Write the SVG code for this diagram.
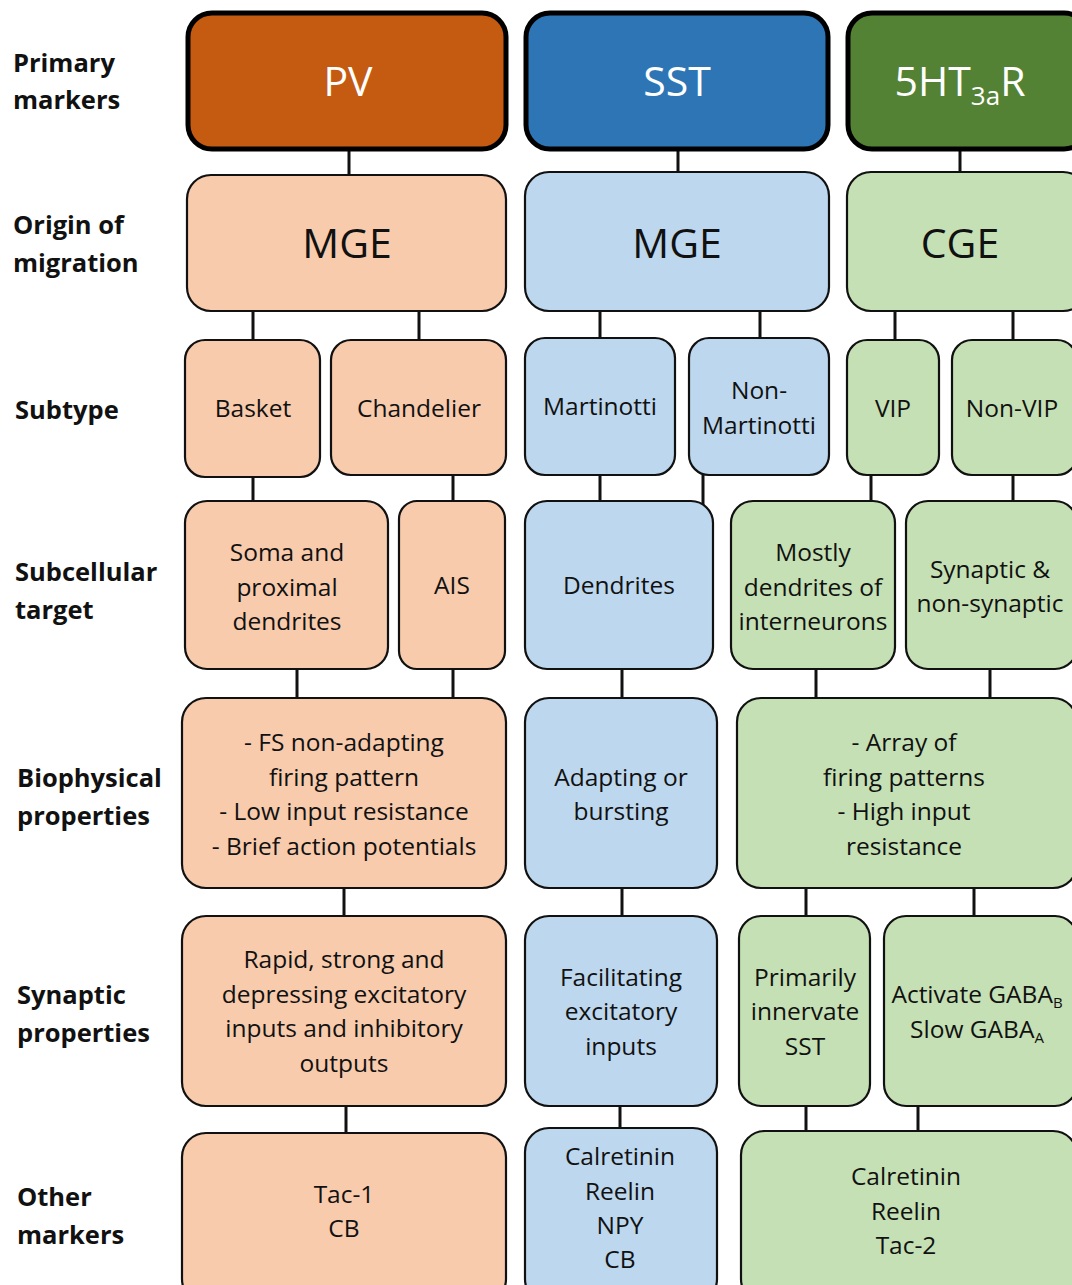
<svg xmlns="http://www.w3.org/2000/svg" width="1072" height="1285" viewBox="0 0 1072 1285">
<style>
text{font-family:"Open Sans","Liberation Sans",sans-serif;fill:#111;text-anchor:middle}
.lab{font-weight:bold;font-size:25.5px;text-anchor:start}
.t{font-size:24.5px}
.big{font-size:41px}
.top{font-size:41px;fill:#fff}
.pv{fill:#F8CBAD;stroke:#111;stroke-width:2.2}
.sst{fill:#BDD7EE;stroke:#111;stroke-width:2.2}
.gr{fill:#C5E0B4;stroke:#111;stroke-width:2.2}
.hd{stroke:#000;stroke-width:5}
#connectors line{stroke:#111;stroke-width:3}
</style>
<rect width="1072" height="1285" fill="#fff"/>
<g id="labels">
<text class="lab" x="13" y="72">Primary</text><text class="lab" x="13" y="109">markers</text>
<text class="lab" x="13" y="234">Origin of</text><text class="lab" x="13" y="272">migration</text>
<text class="lab" x="15" y="419">Subtype</text>
<text class="lab" x="15" y="581">Subcellular</text><text class="lab" x="15" y="619">target</text>
<text class="lab" x="17" y="787">Biophysical</text><text class="lab" x="17" y="825">properties</text>
<text class="lab" x="17" y="1004">Synaptic</text><text class="lab" x="17" y="1042">properties</text>
<text class="lab" x="17" y="1206">Other</text><text class="lab" x="17" y="1244">markers</text>
</g>
<g id="connectors">
<line x1="349" y1="150" x2="349" y2="175"/><line x1="678" y1="150" x2="678" y2="172"/><line x1="960" y1="150" x2="960" y2="172"/>
<line x1="253" y1="311" x2="253" y2="340"/><line x1="419" y1="311" x2="419" y2="340"/><line x1="600" y1="311" x2="600" y2="338"/><line x1="760" y1="311" x2="760" y2="338"/><line x1="895" y1="311" x2="895" y2="340"/><line x1="1013" y1="311" x2="1013" y2="340"/>
<line x1="253" y1="477" x2="253" y2="501"/><line x1="453" y1="475" x2="453" y2="501"/><line x1="600" y1="475" x2="600" y2="501"/><line x1="703" y1="475" x2="703" y2="510"/><line x1="871" y1="475" x2="871" y2="501"/><line x1="1013" y1="475" x2="1013" y2="501"/>
<line x1="297" y1="669" x2="297" y2="698"/><line x1="453" y1="669" x2="453" y2="698"/><line x1="622" y1="669" x2="622" y2="698"/><line x1="816" y1="669" x2="816" y2="698"/><line x1="990" y1="669" x2="990" y2="698"/>
<line x1="344" y1="888" x2="344" y2="916"/><line x1="622" y1="888" x2="622" y2="916"/><line x1="806" y1="888" x2="806" y2="916"/><line x1="974" y1="888" x2="974" y2="916"/>
<line x1="346" y1="1106" x2="346" y2="1133"/><line x1="620" y1="1106" x2="620" y2="1128"/><line x1="806" y1="1106" x2="806" y2="1131"/><line x1="918" y1="1106" x2="918" y2="1131"/>
</g>
<g id="pv-top"><rect class="hd" x="188" y="13" width="318" height="136" rx="24" fill="#C55A11"/><text class="top" x="348" y="96">PV</text></g>
<g id="sst-top"><rect class="hd" x="526" y="13" width="302" height="136" rx="24" fill="#2E75B6"/><text class="top" x="677" y="96">SST</text></g>
<g id="ht-top"><rect class="hd" x="848" y="13" width="240" height="136" rx="24" fill="#548235"/><text class="top" x="960" y="96">5HT<tspan font-size="26" dy="9">3a</tspan><tspan dy="-9">R</tspan></text></g>
<g id="pv-mge"><rect class="pv" x="187" y="175" width="319" height="136" rx="24"/><text class="big" x="347" y="258">MGE</text></g>
<g id="sst-mge"><rect class="sst" x="525" y="172" width="304" height="139" rx="24"/><text class="big" x="677" y="258">MGE</text></g>
<g id="cge"><rect class="gr" x="847" y="172" width="240" height="139" rx="24"/><text class="big" x="960" y="258">CGE</text></g>
<g id="basket"><rect class="pv" x="185" y="340" width="135" height="137" rx="20"/><text class="t" x="253" y="417">Basket</text></g>
<g id="chandelier"><rect class="pv" x="331" y="340" width="175" height="135" rx="20"/><text class="t" x="419" y="417">Chandelier</text></g>
<g id="martinotti"><rect class="sst" x="525" y="338" width="150" height="137" rx="20"/><text class="t" x="600" y="415">Martinotti</text></g>
<g id="nonmartinotti"><rect class="sst" x="689" y="338" width="140" height="137" rx="20"/><text class="t" x="759" y="399">Non-</text><text class="t" x="759" y="434">Martinotti</text></g>
<g id="vip"><rect class="gr" x="847" y="340" width="92" height="135" rx="20"/><text class="t" x="893" y="417">VIP</text></g>
<g id="nonvip"><rect class="gr" x="952" y="340" width="125" height="135" rx="20"/><text class="t" x="1012" y="417">Non-VIP</text></g>
<g id="soma"><rect class="pv" x="185" y="501" width="203" height="168" rx="22"/><text class="t" x="287" y="561">Soma and</text><text class="t" x="287" y="596">proximal</text><text class="t" x="287" y="630">dendrites</text></g>
<g id="ais"><rect class="pv" x="399" y="501" width="106" height="168" rx="18"/><text class="t" x="452" y="594">AIS</text></g>
<g id="dendrites"><rect class="sst" x="525" y="501" width="188" height="168" rx="22"/><text class="t" x="619" y="594">Dendrites</text></g>
<g id="mostly"><rect class="gr" x="731" y="501" width="164" height="168" rx="22"/><text class="t" x="813" y="561">Mostly</text><text class="t" x="813" y="596">dendrites of</text><text class="t" x="813" y="630">interneurons</text></g>
<g id="synaptic"><rect class="gr" x="906" y="501" width="171" height="168" rx="22"/><text class="t" x="990" y="578">Synaptic &amp;</text><text class="t" x="990" y="612">non-synaptic</text></g>
<g id="bio-pv"><rect class="pv" x="182" y="698" width="324" height="190" rx="24"/><text class="t" x="344" y="751">- FS non-adapting</text><text class="t" x="344" y="786">firing pattern</text><text class="t" x="344" y="820">- Low input resistance</text><text class="t" x="344" y="855">- Brief action potentials</text></g>
<g id="bio-sst"><rect class="sst" x="525" y="698" width="192" height="190" rx="24"/><text class="t" x="621" y="786">Adapting or</text><text class="t" x="621" y="820">bursting</text></g>
<g id="bio-gr"><rect class="gr" x="737" y="698" width="340" height="190" rx="24"/><text class="t" x="904" y="751">- Array of</text><text class="t" x="904" y="786">firing patterns</text><text class="t" x="904" y="820">- High input</text><text class="t" x="904" y="855">resistance</text></g>
<g id="syn-pv"><rect class="pv" x="182" y="916" width="324" height="190" rx="24"/><text class="t" x="344" y="968">Rapid, strong and</text><text class="t" x="344" y="1003">depressing excitatory</text><text class="t" x="344" y="1037">inputs and inhibitory</text><text class="t" x="344" y="1072">outputs</text></g>
<g id="syn-sst"><rect class="sst" x="525" y="916" width="192" height="190" rx="24"/><text class="t" x="621" y="986">Facilitating</text><text class="t" x="621" y="1020">excitatory</text><text class="t" x="621" y="1055">inputs</text></g>
<g id="primarily"><rect class="gr" x="739" y="916" width="131" height="190" rx="22"/><text class="t" x="805" y="986">Primarily</text><text class="t" x="805" y="1020">innervate</text><text class="t" x="805" y="1055">SST</text></g>
<g id="activate"><rect class="gr" x="884" y="916" width="193" height="190" rx="22"/><text class="t" x="977" y="1003">Activate GABA<tspan font-size="15" dy="5">B</tspan></text><text class="t" x="977" y="1038">Slow GABA<tspan font-size="15" dy="5">A</tspan></text></g>
<g id="oth-pv"><rect class="pv" x="182" y="1133" width="324" height="170" rx="24"/><text class="t" x="344" y="1203">Tac-1</text><text class="t" x="344" y="1237">CB</text></g>
<g id="oth-sst"><rect class="sst" x="525" y="1128" width="192" height="175" rx="24"/><text class="t" x="620" y="1165">Calretinin</text><text class="t" x="620" y="1200">Reelin</text><text class="t" x="620" y="1234">NPY</text><text class="t" x="620" y="1268">CB</text></g>
<g id="oth-gr"><rect class="gr" x="741" y="1131" width="336" height="172" rx="24"/><text class="t" x="906" y="1185">Calretinin</text><text class="t" x="906" y="1220">Reelin</text><text class="t" x="906" y="1254">Tac-2</text></g>
</svg>
